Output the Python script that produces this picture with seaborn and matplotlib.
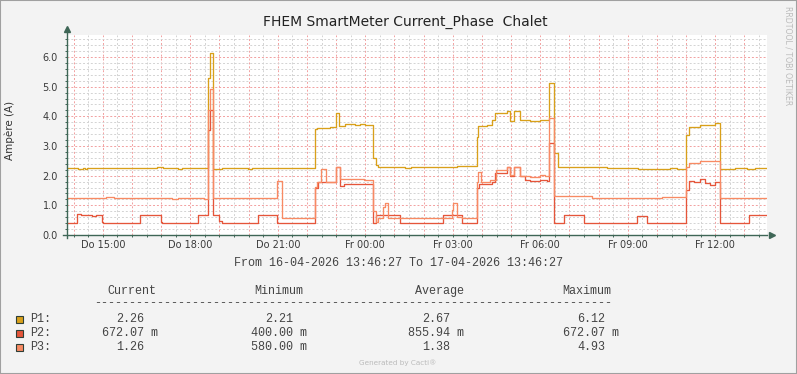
import pandas as pd
import seaborn as sns
import matplotlib.pyplot as plt
import matplotlib.dates as mdates
from matplotlib.patches import Rectangle
from matplotlib.ticker import MultipleLocator, FuncFormatter

W, H = 797, 374
start = pd.Timestamp("2026-04-16 13:46:27")

# hours since start, value (step changes)
p1_t = [0.00, 0.38, 0.55, 0.62, 0.69, 3.10, 3.30, 3.80, 3.95, 4.82, 4.92, 5.02, 5.30, 5.45,
        5.80, 6.20, 6.35, 7.00, 8.50, 8.56, 9.02, 9.22, 9.32, 9.53, 9.87, 10.04, 10.21, 10.50,
        10.58, 10.67, 10.90, 11.60, 11.80, 13.36, 14.05, 14.10, 14.39, 14.56, 14.67, 15.07,
        15.19, 15.32, 15.53, 15.87, 16.22, 16.53, 16.70, 16.84, 17.50, 18.00, 18.50, 19.59,
        20.67, 20.90, 21.22, 21.32, 21.70, 22.21, 22.39, 22.90, 23.30, 23.60]
p1_v = [2.26, 2.23, 2.25, 2.23, 2.26, 2.28, 2.26, 2.24, 2.26, 5.31, 6.12, 2.24, 2.27, 2.25,
        2.26, 2.24, 2.26, 2.25, 3.58, 3.61, 3.64, 4.10, 3.67, 3.74, 3.72, 3.74, 3.70, 2.60,
        2.36, 2.28, 2.30, 2.27, 2.30, 2.32, 3.31, 3.67, 3.72, 3.87, 4.10, 4.18,
        3.85, 4.18, 3.87, 3.84, 3.89, 5.11, 2.77, 2.30, 2.28, 2.30, 2.27, 2.24,
        2.26, 2.24, 3.37, 3.64, 3.72, 3.79, 2.24, 2.26, 2.24, 2.25]

p2_t = [0.00, 0.35, 0.48, 0.87, 1.00, 1.19, 1.24, 2.50, 3.22, 3.27, 4.50, 4.82, 4.92, 5.02,
        5.22, 5.30, 6.54, 7.19, 8.50, 8.60, 9.22, 9.35, 9.50, 10.50, 10.58, 11.42, 12.88,
        13.53, 14.05, 14.12, 14.56, 14.67, 15.07, 15.19, 15.32, 15.53, 15.70, 15.87, 16.22,
        16.45, 16.53, 16.70, 17.04, 17.72, 19.53, 19.87, 21.22, 21.32, 21.50, 21.70, 21.87,
        22.04, 22.21, 22.39, 23.39]
p2_v = [0.40, 0.70, 0.67, 0.63, 0.67, 0.45, 0.40, 0.67, 0.45, 0.40, 0.67, 3.54, 4.21, 0.67,
        0.47, 0.40, 0.67, 0.40, 1.57, 1.79, 2.30, 1.65, 1.72, 0.39, 0.67, 0.40, 0.67,
        0.40, 1.60, 1.73, 1.80, 2.08, 2.30, 1.98, 2.28, 1.98, 1.87, 1.82, 1.85,
        1.83, 3.09, 0.40, 0.69, 0.40, 0.63, 0.40, 1.52, 1.83, 1.80, 1.88, 1.74,
        1.70, 1.80, 0.40, 0.67]

p3_t = [0.00, 1.35, 1.60, 2.30, 2.45, 2.75, 3.00, 3.60, 3.80, 4.70, 4.82, 4.92, 5.02, 5.60,
        6.00, 7.21, 7.36, 8.50, 8.58, 8.71, 8.87, 9.22, 9.35, 10.00, 10.20, 10.50, 10.58,
        10.67, 10.84, 10.90, 11.01, 13.19, 13.25, 13.36, 13.55, 14.05, 14.10, 14.18, 14.50,
        14.71, 15.07, 15.19, 15.32, 15.53, 15.87, 16.22, 16.39, 16.53, 16.70, 17.99, 20.39,
        21.22, 21.32, 21.70, 22.39, 23.50]
p3_v = [1.24, 1.27, 1.24, 1.26, 1.24, 1.26, 1.24, 1.23, 1.25, 1.23, 4.20, 4.93, 1.25, 1.24,
        1.25, 1.83, 0.58, 1.62, 1.80, 2.22, 1.80, 2.28, 1.88, 1.90, 1.86, 0.80, 0.45,
        0.58, 0.96, 1.08, 0.58, 0.85, 1.08, 0.60, 0.57, 1.80, 2.13, 1.80, 1.85,
        2.19, 2.30, 2.02, 2.30, 1.98, 1.95, 2.03, 1.98, 3.93, 1.31, 1.24, 1.29,
        2.30, 2.42, 2.50, 1.24, 1.26]

series_names = ["P1", "P2", "P3"]
series_colors = ["#D9A01A", "#E5553A", "#F88A63"]

tick_hours = [15, 18, 21, 0, 3, 6, 9, 12]
tick_labels = ["Do 15:00", "Do 18:00", "Do 21:00", "Fr 00:00",
               "Fr 03:00", "Fr 06:00", "Fr 09:00", "Fr 12:00"]

col_heads = ["Current", "Minimum", "Average", "Maximum"]
cur_vals = ["2.26", "672.07 m", "1.26"]
min_vals = ["2.21", "400.00 m", "580.00 m"]
avg_vals = ["2.67", "855.94 m", "1.38"]
max_vals = ["6.12", "672.07 m", "4.93"]


def make_df(t, v, name):
    tt = t + [24.0]
    vv = v + [v[-1]]
    return pd.DataFrame({"time": start + pd.to_timedelta(tt, unit="h"),
                         "value": vv, "phase": name})


df = pd.concat([make_df(p1_t, p1_v, "P1"), make_df(p2_t, p2_v, "P2"),
                make_df(p3_t, p3_v, "P3")], ignore_index=True)

fig = plt.figure(figsize=(W / 100, H / 100), dpi=100, facecolor="#F3F3F3")
x0, x1, yb, yt = 67, 767, 235, 34.5
ax = fig.add_axes([x0 / W, 1 - yb / H, (x1 - x0) / W, (yb - yt) / H])
ax.set_facecolor("white")

for name, col in zip(series_names, series_colors):
    sns.lineplot(data=df[df.phase == name], x="time", y="value", color=col,
                 drawstyle="steps-post", linewidth=0.95, ax=ax, legend=False)

ax.set_xlim(start, start + pd.Timedelta(hours=24))
ax.set_ylim(0, 6.76)
ax.set_xlabel("")
ax.set_ylabel("")

lab_map = dict(zip(tick_hours, tick_labels))


def xfmt(x, pos):
    d = mdates.num2date(x)
    if d.minute == 0 and d.hour % 3 == 0:
        return lab_map.get(d.hour, "")
    return ""


ax.xaxis.set_major_locator(mdates.HourLocator())
ax.xaxis.set_minor_locator(mdates.MinuteLocator(byminute=[30]))
ax.xaxis.set_major_formatter(FuncFormatter(xfmt))
ax.yaxis.set_major_locator(MultipleLocator(1.0))
ax.yaxis.set_minor_locator(MultipleLocator(0.2))
ax.yaxis.set_major_formatter(FuncFormatter(lambda y, pos: f"{y:.1f}"))

ax.set_axisbelow(True)
ax.grid(which="minor", color="#D3D3D3", linestyle=(0, (2, 2)), linewidth=0.7)
ax.grid(which="major", color="#F2A0A0", linestyle=(0, (2, 2)), linewidth=0.7)

axis_col = "#3E6656"
for s in ax.spines.values():
    s.set_visible(False)
ax.tick_params(which="both", length=1.6, width=0.7, color=axis_col, labelsize=7,
               labelcolor="#3A3A3A")
ax.tick_params(axis="y", pad=5)
ax.tick_params(axis="x", pad=2)

# axes with arrows
ax.plot([0, 0], [-0.015, 1.02], transform=ax.transAxes, color=axis_col, lw=1, clip_on=False)
ax.plot([0], [1.027], transform=ax.transAxes, marker="^", color=axis_col, ms=4, clip_on=False)
ax.plot([-0.006, 1.0], [0, 0], transform=ax.transAxes, color=axis_col, lw=1, clip_on=False)
ax.plot([1.0075], [0], transform=ax.transAxes, marker=">", color=axis_col, ms=4, clip_on=False)


def px(x, y):
    return x / W, 1 - y / H


fig.text(*px(405, 22), "FHEM SmartMeter Current_Phase  Chalet", ha="center", va="center",
         fontsize=10, color="#222222")
fig.text(*px(10, 130), "Ampère (A)", rotation=90, ha="center", va="center", fontsize=7.5,
         color="#333333")
fig.text(*px(788, 56), "RRDTOOL / TOBI OETIKER", rotation=270, ha="center", va="center",
         fontsize=5.6, color="#BBBBBB")
fig.text(*px(398, 263), "From 16-04-2026 13:46:27 To 17-04-2026 13:46:27", ha="center",
         va="center", fontsize=8.5, family="Liberation Mono", color="#444444")
fig.text(*px(398, 363), "Generated by Cacti®", ha="center", va="center", fontsize=5.2,
         color="#BBBBBB")

mono = dict(family="Liberation Mono", fontsize=8.5, color="#444444", va="center", ha="left")
for hx, h in zip([107, 254, 415, 562], col_heads):
    fig.text(*px(hx, 291), h, **mono)
fig.text(*px(94, 303), "-" * 74, **mono)

row_y = [319.5, 333, 347]
for i, (name, col) in enumerate(zip(series_names, series_colors)):
    y = row_y[i]
    fig.add_artist(Rectangle(px(15.5, y + 3.5), 7 / W, 7 / H, transform=fig.transFigure,
                             facecolor=col, edgecolor="#2E3E36", lw=0.8))
    fig.text(*px(30, y), name + ":", **mono)
    for cx, vals in zip([116, 265, 422, 577], [cur_vals, min_vals, avg_vals, max_vals]):
        s = vals[i]
        xx = cx if not s.endswith("m") else cx - 14
        fig.text(*px(xx, y), s, **mono)

fig.add_artist(Rectangle((0, 0), 1, 1, transform=fig.transFigure, fill=False,
                         edgecolor="#A0A0A0", lw=1.5))

fig.savefig("out.png", dpi=100, facecolor=fig.get_facecolor())
